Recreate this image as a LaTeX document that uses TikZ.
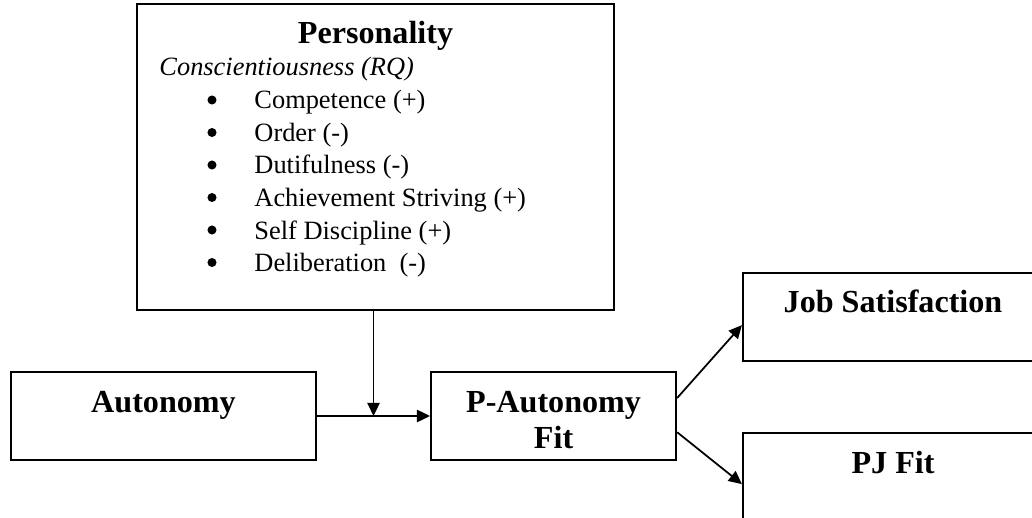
\documentclass[tikz,border=0pt]{standalone}
\usepackage{fontspec}
\setmainfont{Liberation Serif}
\usetikzlibrary{positioning,calc,arrows.meta}
\tikzset{box/.style={draw,line width=0.9pt,inner sep=0pt}}
\tikzset{title/.style={inner sep=0pt,anchor=base,font=\bfseries\fontsize{14.6}{16.4}\selectfont}}
\tikzset{trait/.style={inner sep=0pt,anchor=base west,font=\fontsize{12}{14.8}\selectfont}}
\tikzset{dot/.style={circle,fill,inner sep=0pt,minimum size=4.1pt}}
\tikzset{arrow/.style={line width=0.8pt,-{Triangle[length=6pt,width=5.6pt]}}}

\begin{document}
\begin{tikzpicture}[x=0.4545pt,y=-0.4545pt]
        \useasboundingbox (0,0) rectangle (1032,518);
        \clip (0,0) rectangle (1032,518);
        % boxes
        \node[box,minimum width=216.8pt,minimum height=139.1pt] (pers) at (375.5,157) {};
        \node[box,minimum width=138.6pt,minimum height=40pt] (aut) at (163.5,416) {};
        \node[box,minimum width=111.4pt,minimum height=40pt,right=51.4pt of aut] (pa) {};
        \node[box,minimum width=136.4pt,minimum height=40pt] (js) at (893,317) {};
        \node[box,minimum width=136.4pt,minimum height=40pt,below=31.8pt of js] (pj) {};
        % titles
        \node[title] (persT) at ([yshift=-18.6pt]pers.north) {Personality};
        \node[title] (autT) at ([yshift=-19pt]aut.north) {Autonomy};
        \node[title] (paT) at ([yshift=-19pt]pa.north) {\begin{tabular}[t]{@{}c@{}}P-Autonomy\\Fit\end{tabular}};
        \node[title] (jsT) at ([yshift=-18.6pt]js.north) {Job Satisfaction};
        \node[title] (pjT) at ([yshift=-19pt]pj.north) {PJ Fit};
        % traits
        \node[trait,font=\itshape\fontsize{12}{14.8}\selectfont] (consc) at (159,76) {Conscientiousness (RQ)};
        \foreach \trt [count=\i] in {{Competence (+)},{Order (-)},{Dutifulness (-)},{Achievement Striving (+)},{Self Discipline (+)},{Deliberation\ \ (-)}} {
            \node[dot] (dot\i) at (212,100+32.5*\i-32.5) {};
            \node[trait] (trait\i) at (254,109+32.5*\i-32.5) {\trt};
        }
        % connectors
        \coordinate (join) at ($(aut.east)!0.5!(pa.west)$);
        \draw[arrow] (aut.east) -- (pa.west);
        \draw[arrow] (pers.south -| join) -- (join);
        \draw[arrow] ($(pa.north east)!0.3!(pa.south east)$) -- ($(js.north west)!0.59!(js.south west)$);
        \draw[arrow] ($(pa.north east)!0.68!(pa.south east)$) -- ($(pj.north west)!0.58!(pj.south west)$);
\end{tikzpicture}
\end{document}
